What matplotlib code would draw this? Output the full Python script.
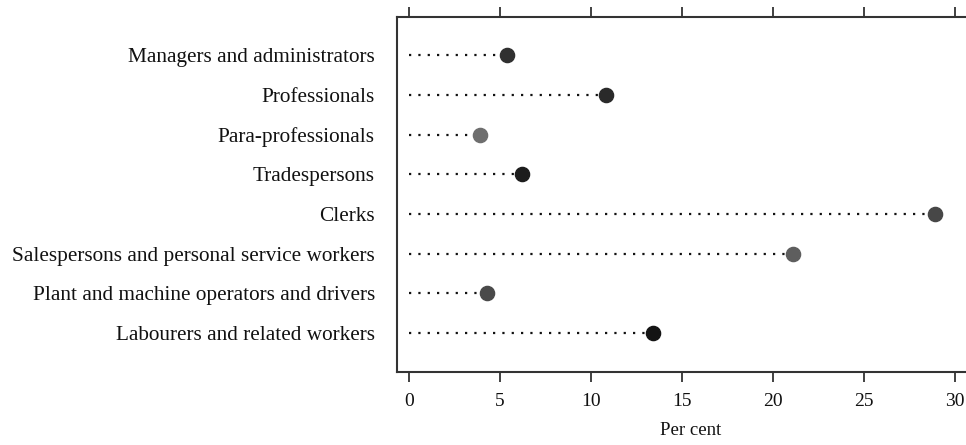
import matplotlib
matplotlib.use("Agg")
import matplotlib.pyplot as plt

categories = [
    "Managers and administrators",
    "Professionals",
    "Para-professionals",
    "Tradespersons",
    "Clerks",
    "Salespersons and personal service workers",
    "Plant and machine operators and drivers",
    "Labourers and related workers",
]
values = [5.4, 10.8, 3.9, 6.2, 28.9, 21.1, 4.3, 13.4]
dot_colors = ["#303030", "#2a2a2a", "#6e6e6e", "#1c1c1c", "#474747", "#5e5e5e", "#4a4a4a", "#141414"]
xticks = [0, 5, 10, 15, 20, 25, 30]

plt.rcParams["font.family"] = ["Liberation Serif", "DejaVu Serif"]

fig = plt.figure(figsize=(9.66, 4.45), dpi=100)
# left spine at x~397px, bottom at y~372px, top at y~17px; axes runs past the right edge
ax = fig.add_axes([397/966, (445-372)/445, (985-397)/966, (372-17)/445])

ypos = list(range(len(categories)))
for y, v, c in zip(ypos, values, dot_colors):
    ax.plot([0, v], [y, y], linestyle=(0, (1, 3.2)), color="#111111", linewidth=1.6, zorder=1)
    ax.plot([v], [y], marker="o", markersize=10.2, color=c, markeredgecolor=c, zorder=2)

ax.set_yticks(ypos)
ax.set_yticklabels(categories, fontsize=15.3, color="#111111")
ax.set_ylim(7.98, -0.96)
ax.set_xlim((397-409)/18.2, (985-409)/18.2)
ax.set_xticks(xticks)
ax.set_xticklabels([str(t) for t in xticks], fontsize=14, color="#111111")
ax.set_xlabel("Per cent", fontsize=13.5, color="#111111", labelpad=9)

ax.tick_params(axis="y", length=0, pad=16)
ax.tick_params(axis="x", which="both", direction="out", length=7, width=1.3,
               color="#333333", top=True, bottom=True, pad=8)
for side in ["left", "top", "bottom"]:
    ax.spines[side].set_color("#333333")
    ax.spines[side].set_linewidth(1.5)
ax.spines["right"].set_visible(False)

fig.savefig("out.png", dpi=100)
